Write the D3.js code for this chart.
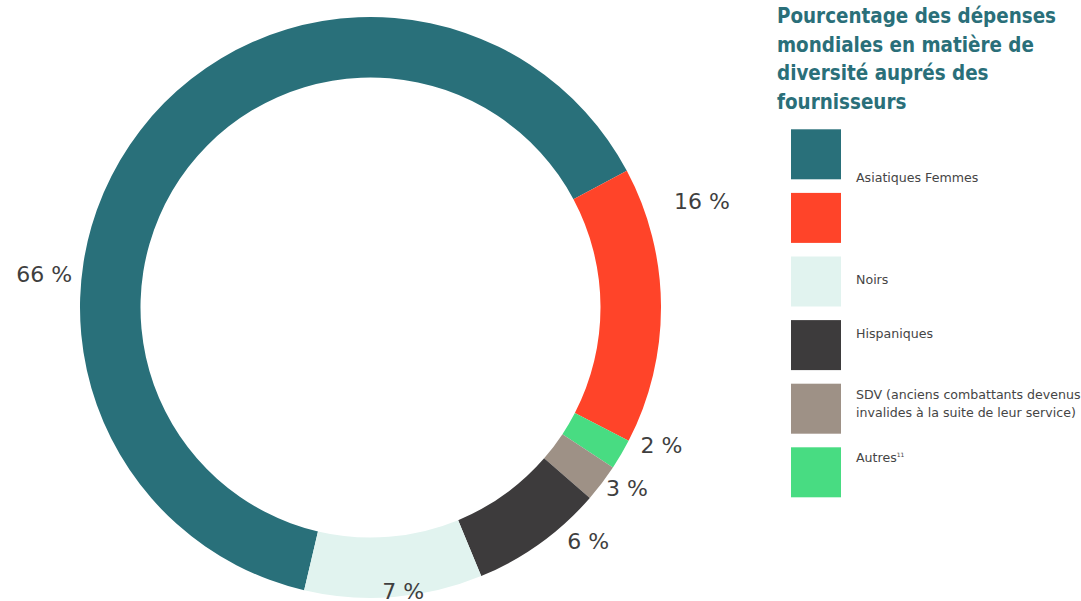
<!DOCTYPE html>
<html>
<head>
<meta charset="utf-8">
<script src="https://cdn.jsdelivr.net/npm/d3@7"></script>
<style>
  body { margin: 0; background: #fff; }
  svg { display: block; }
</style>
</head>
<body>
<div id="chart"></div>
<script>
// slice order is clockwise, starting at the lower-left end of the big teal arc
var categories = ['Asiatiques Femmes', 'Femmes', 'Autres', 'SDV', 'Hispaniques', 'Noirs'];
var shares = [63.6, 15.4, 1.7, 2.1, 7.4, 9.9];          // arc sizes as drawn
var percentLabels = ['66 %', '16 %', '2 %', '3 %', '6 %', '7 %'];
var colors = ['#29707a', '#ff4429', '#48dc82', '#9e9186', '#3d3b3c', '#e1f3ef'];

// legend, in the order the reference lists it
var legendColors = ['#29707a', '#ff4429', '#e1f3ef', '#3d3b3c', '#9e9186', '#48dc82'];
var legendLabels = [['Asiatiques Femmes'], [], ['Noirs'], ['Hispaniques'],
                    ['SDV (anciens combattants devenus', 'invalides à la suite de leur service)'], ['Autres']];
var titleLines = ['Pourcentage des dépenses', 'mondiales en matière de', 'diversité auprés des', 'fournisseurs'];

document.addEventListener('DOMContentLoaded', function() {
    drawChart();
});

function drawChart() {
    var width = 1081, height = 601;
    var cx = 370.5, cy = 307.5;
    var outerR = 290.5, innerR = 230;

    // label placement: shift from mid angle (deg) and distance from centre
    var labelShift = [-31.7, -17.4, -5, -2, -7.3, -2];
    var labelRadius = [328, 348, 322, 314, 319, 285];

    var svg = d3.select('#chart').append('svg')
        .attr('width', width)
        .attr('height', height);

    var data = categories.map(function(c, i) {
        return { name: c, value: shares[i], label: percentLabels[i], color: colors[i] };
    });

    var start = 193.2 * Math.PI / 180;
    var pie = d3.pie()
        .sort(null)
        .value(function(d) { return d.value; })
        .startAngle(start)
        .endAngle(start + 2 * Math.PI);

    var arc = d3.arc().innerRadius(innerR).outerRadius(outerR);

    var g = svg.append('g').attr('transform', 'translate(' + cx + ',' + cy + ')');
    var arcs = pie(data);

    g.selectAll('path.slice')
        .data(arcs)
        .enter().append('path')
        .attr('class', 'slice')
        .attr('d', arc)
        .attr('fill', function(d) { return d.data.color; });

    g.selectAll('text.pct')
        .data(arcs)
        .enter().append('text')
        .attr('class', 'pct')
        .attr('x', function(d, i) {
            var a = (d.startAngle + d.endAngle) / 2 + labelShift[i] * Math.PI / 180;
            return Math.sin(a) * labelRadius[i];
        })
        .attr('y', function(d, i) {
            var a = (d.startAngle + d.endAngle) / 2 + labelShift[i] * Math.PI / 180;
            return -Math.cos(a) * labelRadius[i];
        })
        .attr('dy', '0.36em')
        .attr('text-anchor', 'middle')
        .style('font-family', '"DejaVu Sans", Verdana, sans-serif')
        .style('font-size', '22px')
        .style('fill', '#3f3f3f')
        .text(function(d) { return d.data.label; });

    // title
    var title = svg.append('text')
        .attr('x', 777)
        .style('font-family', '"DejaVu Sans", Verdana, sans-serif')
        .style('font-stretch', 'condensed')
        .style('font-weight', 'bold')
        .style('font-size', '20.4px')
        .style('fill', '#2a6f79');
    title.selectAll('tspan')
        .data(titleLines)
        .enter().append('tspan')
        .attr('x', 777)
        .attr('y', function(d, i) { return 23 + i * 28.5; })
        .text(function(d) { return d; });

    // legend
    var y = d3.scaleBand()
        .domain(d3.range(legendColors.length))
        .range([129.3, 497.3])
        .paddingInner(13.6 / 63.6);
    var textOffset = [52.4, 0, 27.3, 18.3, 15.3, 14.4];

    var legend = svg.append('g');
    legend.selectAll('rect')
        .data(legendColors)
        .enter().append('rect')
        .attr('x', 791)
        .attr('y', function(d, i) { return y(i); })
        .attr('width', 50)
        .attr('height', y.bandwidth())
        .attr('fill', function(d) { return d; });

    var items = legend.selectAll('text')
        .data(legendLabels)
        .enter().append('text')
        .style('font-family', '"DejaVu Sans", Verdana, sans-serif')
        .style('font-size', '12.6px')
        .style('fill', '#454545');
    items.each(function(lines, i) {
        var t = d3.select(this);
        lines.forEach(function(line, k) {
            t.append('tspan')
                .attr('x', 856)
                .attr('y', y(i) + textOffset[i] + k * 17.5)
                .text(line);
        });
        if (i === 5) {
            t.append('tspan')
                .attr('dy', -5)
                .style('font-size', '6px')
                .text('11');
        }
    });
}
</script>
</body>
</html>
